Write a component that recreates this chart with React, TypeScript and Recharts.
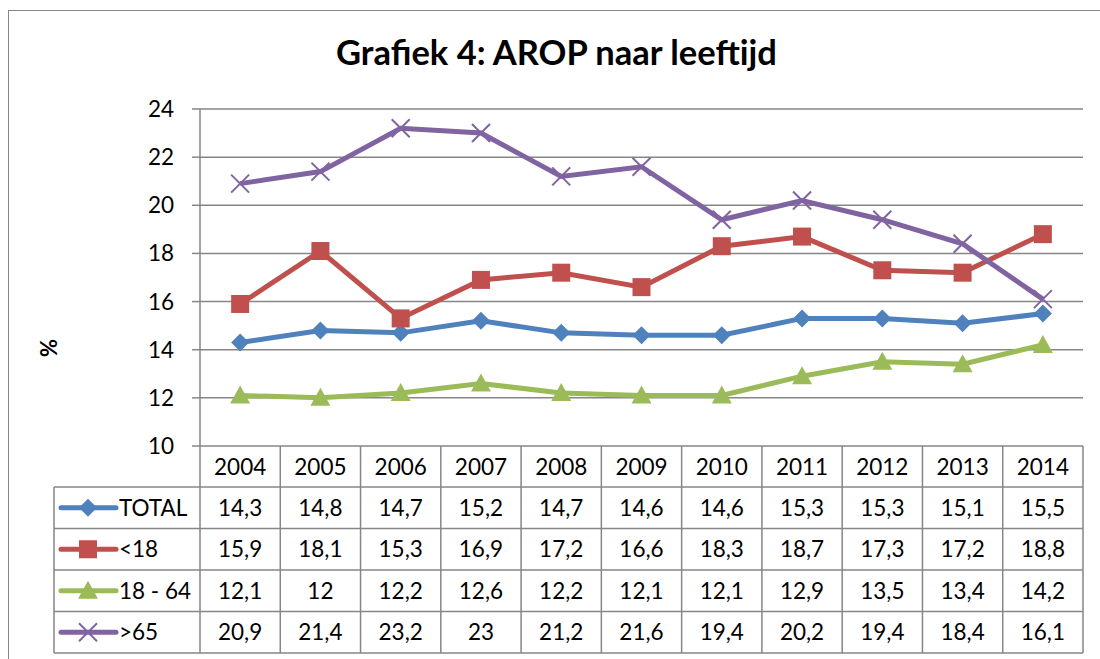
import React from 'react';
import { LineChart, Line, XAxis, YAxis, CartesianGrid } from 'recharts';

const years = ['2004', '2005', '2006', '2007', '2008', '2009', '2010', '2011', '2012', '2013', '2014'];
const total = [14.3, 14.8, 14.7, 15.2, 14.7, 14.6, 14.6, 15.3, 15.3, 15.1, 15.5];
const under18 = [15.9, 18.1, 15.3, 16.9, 17.2, 16.6, 18.3, 18.7, 17.3, 17.2, 18.8];
const age18to64 = [12.1, 12, 12.2, 12.6, 12.2, 12.1, 12.1, 12.9, 13.5, 13.4, 14.2];
const over65 = [20.9, 21.4, 23.2, 23, 21.2, 21.6, 19.4, 20.2, 19.4, 18.4, 16.1];
const yTicks = [10, 12, 14, 16, 18, 20, 22, 24];

const FONT = 'Lato, "Open Sans", sans-serif';
const GRID = '#868686';

const CHART_W = 1091;
const CHART_H = 650;
const Y_AXIS_W = 191;
const RIGHT = 17;
const TOP = 98;
const X_AXIS_H = 215;
const PLOT_W = CHART_W - Y_AXIS_W - RIGHT;
const BAND = PLOT_W / years.length;
const TABLE_TOP = CHART_H - X_AXIS_H;
const HEAD_H = 41;
const ROW_H = 41.5;
const LEGEND_W = 146;

const series = [
  { key: 'total', name: 'TOTAL', values: total, color: '#4F81BD', marker: 'diamond' },
  { key: 'u18', name: '<18', values: under18, color: '#C0504D', marker: 'square' },
  { key: 'mid', name: '18 - 64', values: age18to64, color: '#9BBB59', marker: 'triangle' },
  { key: 'o65', name: '>65', values: over65, color: '#8064A2', marker: 'cross' },
];

const data = years.map((year, i) => ({
  year,
  total: total[i],
  u18: under18[i],
  mid: age18to64[i],
  o65: over65[i],
}));

function Marker({ type, cx, cy, color }: { type: string; cx: number; cy: number; color: string }) {
  if (type === 'diamond') {
    return <polygon points={`${cx},${cy - 9} ${cx + 9},${cy} ${cx},${cy + 9} ${cx - 9},${cy}`} fill={color} />;
  }
  if (type === 'square') {
    return <rect x={cx - 9} y={cy - 9} width={18} height={18} fill={color} />;
  }
  if (type === 'triangle') {
    return <polygon points={`${cx},${cy - 10} ${cx + 10},${cy + 8} ${cx - 10},${cy + 8}`} fill={color} />;
  }
  return (
    <g stroke={color} strokeWidth={2}>
      <line x1={cx - 9} y1={cy - 9} x2={cx + 9} y2={cy + 9} />
      <line x1={cx - 9} y1={cy + 9} x2={cx + 9} y2={cy - 9} />
    </g>
  );
}

const fmt = (v: number) => String(v).replace('.', ',');

// each x tick draws one column of the data table below the plot
function TableColumn(props: any) {
  const { x, payload } = props;
  const i = payload.index;
  const left = x - BAND / 2;
  const right = x + BAND / 2;
  const bottom = TABLE_TOP + HEAD_H + ROW_H * series.length;
  const txt = { fontFamily: FONT, fontSize: 22.5, fill: '#000', textAnchor: 'middle' as const };
  return (
    <g>
      {i === 0 && (
        <g>
          <line x1={left - LEGEND_W} y1={bottom} x2={left - LEGEND_W} y2={TABLE_TOP + HEAD_H} stroke={GRID} strokeWidth={1.5} />
          {series.map((s, r) => {
            const cy = TABLE_TOP + HEAD_H + ROW_H * r + ROW_H / 2;
            return (
              <g key={s.key}>
                <line x1={left - LEGEND_W + 7} y1={cy} x2={left - LEGEND_W + 62} y2={cy} stroke={s.color} strokeWidth={5} strokeLinecap="round" />
                <Marker type={s.marker} cx={left - LEGEND_W + 34} cy={cy} color={s.color} />
                <text x={left - LEGEND_W + 65} y={cy + 8} fontFamily={FONT} fontSize={22.5} fill="#000">{s.name}</text>
              </g>
            );
          })}
          {[0, 1, 2, 3, 4].map((r) => {
            const y = TABLE_TOP + HEAD_H + ROW_H * r;
            return <line key={r} x1={left - LEGEND_W} y1={y} x2={left + BAND * years.length} y2={y} stroke={GRID} strokeWidth={1.5} />;
          })}
        </g>
      )}
      <line x1={right} y1={TABLE_TOP} x2={right} y2={bottom} stroke={GRID} strokeWidth={1.5} />
      {i === 0 && <line x1={left} y1={TABLE_TOP} x2={left} y2={bottom} stroke={GRID} strokeWidth={1.5} />}
      <text x={x} y={TABLE_TOP + HEAD_H / 2 + 8} {...txt}>{payload.value}</text>
      {series.map((s, r) => (
        <text key={s.key} x={x} y={TABLE_TOP + HEAD_H + ROW_H * r + ROW_H / 2 + 8} {...txt}>
          {fmt(s.values[i])}
        </text>
      ))}
    </g>
  );
}

export default function App() {
  return (
    <div
      style={{
        position: 'fixed',
        left: 8,
        top: 10,
        width: CHART_W,
        height: 648,
        overflow: 'hidden',
        borderLeft: `1px solid ${GRID}`,
        borderTop: `1px solid ${GRID}`,
        background: '#fff',
      }}
    >
      <div style={{ position: 'absolute', left: 0, top: 20, width: 1095, textAlign: 'center', fontFamily: FONT, fontWeight: 700, fontSize: 34.5, color: '#000' }}>
        Grafiek 4: AROP naar leeftijd
      </div>
      <LineChart width={CHART_W} height={CHART_H} data={data} margin={{ top: TOP, right: RIGHT, bottom: 0, left: 0 }}>
        <CartesianGrid horizontal vertical={false} stroke={GRID} strokeWidth={1.5} />
        <XAxis
          dataKey="year"
          height={X_AXIS_H}
          axisLine={false}
          tickLine={false}
          interval={0}
          padding={{ left: BAND / 2, right: BAND / 2 }}
          tick={<TableColumn />}
        />
        <YAxis
          width={Y_AXIS_W}
          domain={[10, 24]}
          ticks={yTicks}
          tickSize={8}
          tickMargin={18}
          stroke={GRID}
          strokeWidth={1.5}
          tick={{ fontFamily: FONT, fontSize: 22.5, fill: '#000' }}
          label={{
            content: () => (
              <text x={39} y={337} transform="rotate(-90 39 337)" textAnchor="middle" dominantBaseline="central" fontFamily={FONT} fontWeight={700} fontSize={22} fill="#000">
                %
              </text>
            ),
          }}
        />
        {series.map((s) => (
          <Line
            key={s.key}
            dataKey={s.key}
            name={s.name}
            stroke={s.color}
            strokeWidth={5}
            isAnimationActive={false}
            dot={(p: any) => <Marker key={`${s.key}-${p.index}`} type={s.marker} cx={p.cx} cy={p.cy} color={s.color} />}
            activeDot={false}
          />
        ))}
      </LineChart>
    </div>
  );
}
